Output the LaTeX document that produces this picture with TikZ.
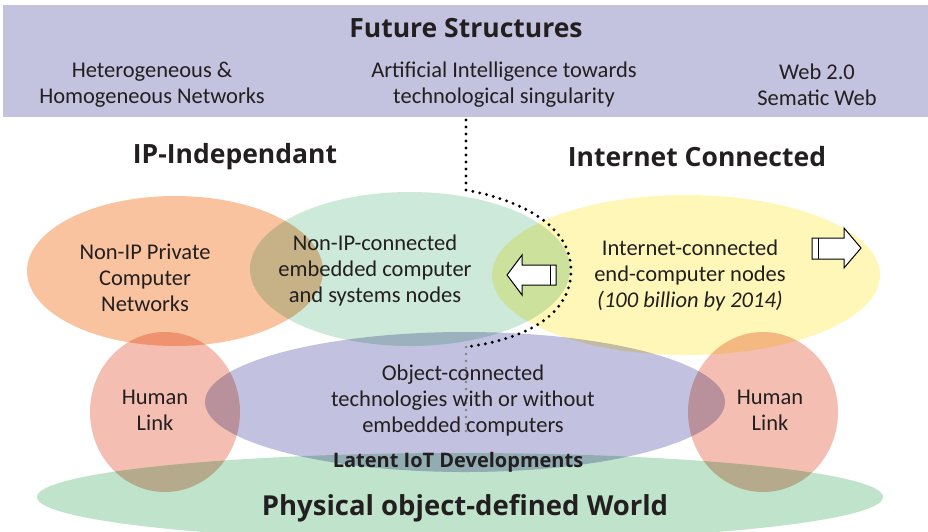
\documentclass[tikz,border=0pt]{standalone}
\usepackage{fontspec}
\setmainfont{Carlito}
\newfontfamily\headfont{Open Sans}
\usetikzlibrary{positioning}

\definecolor{bandblue}{HTML}{C3C3DF}
\definecolor{orangeblob}{HTML}{F9C3A0}
\definecolor{greenblob}{HTML}{CCE9D9}
\definecolor{yellowblob}{HTML}{FFF7B8}
\definecolor{lavblob}{HTML}{C2C2E0}
\definecolor{pinkblob}{HTML}{F4BFB2}
\definecolor{worldgreen}{HTML}{BFE3CB}
\definecolor{inktext}{HTML}{231F20}

\tikzset{
  txt/.style={align=center, text=inktext, font=\fontsize{22.5}{26}\selectfont},
  headtxt/.style={align=center, text=inktext, font=\headfont\fontsize{26.5}{30}\selectfont\bfseries},
  dotline/.style={line width=3.2pt, line cap=round, dash pattern=on 0pt off 7pt},
  blockarrow/.style={fill=white, draw=black, line width=1pt, line join=miter},
}

\begin{document}
\begin{tikzpicture}[x=1pt, y=-1pt]
    \useasboundingbox (0,0) rectangle (928,531);

    % Future structures band
    \fill[bandblue] (3,5) rectangle (928,117);

    % Overlapping areas
    \begin{scope}[blend mode=multiply]
        \fill[worldgreen] (460,497) ellipse [x radius=423, y radius=44];
        \fill[orangeblob] (175,271) ellipse [x radius=148, y radius=75];
        \fill[greenblob] (410,269) ellipse [x radius=160, y radius=77];
        \fill[yellowblob] (686,275) ellipse [x radius=194, y radius=80];
        \fill[pinkblob] (165,412) ellipse [x radius=75, y radius=80];
        \fill[pinkblob] (763,412) ellipse [x radius=75, y radius=80];
        \fill[lavblob] (465,402) ellipse [x radius=260, y radius=70];
    \end{scope}

    % Dotted border between the two worlds
    \coordinate (dtop) at (466,120);
    \coordinate (dbot) at (466,436);
    \draw[dotline, black] (dtop) -- (466,190)
        .. controls (520,200) and (572,225) .. (571,272)
        .. controls (570,318) and (520,340) .. (466,347);
    \draw[dotline, black!50, line width=2.6pt] (466,347) -- (dbot);

    % Block arrows
    \filldraw[blockarrow] (507,275) -- (522,255) -- (522,265) -- (556,265)
        -- (556,285) -- (522,285) -- (522,295) -- cycle;
    \draw[line width=1pt] (550,265) -- (550,285);
    \filldraw[blockarrow] (861,248) -- (844,228) -- (844,238) -- (812,238)
        -- (812,259) -- (844,259) -- (844,268) -- cycle;
    \draw[line width=1pt] (818,238) -- (818,259);

    % Band texts
    \node[headtxt] (future) at (466,28) {Future Structures};
    \node[txt] (hetero) at (152,85) {Heterogeneous \&\\Homogeneous Networks};
    \node[txt] (ai) at (504,85) {Artificial Intelligence towards\\technological singularity};
    \node[txt] (web) at (817,85) {Web 2.0\\Sematic Web};

    % Headings
    \node[headtxt] (ipind) at (235,157) {IP-Independant};
    \node[headtxt] (inetcon) at (697,157) {Internet Connected};

    % Blob texts
    \node[txt] (nonippriv) at (145,278) {Non-IP Private\\Computer\\Networks};
    \node[txt] (nonipconn) at (375,270) {Non-IP-connected\\embedded computer\\and systems nodes};
    \node[txt] (inetnodes) at (690,275) {Internet-connected\\end-computer nodes\\\textit{(100 billion by 2014)}};
    \node[txt] (humanL) at (155,410) {Human\\Link};
    \node[txt] (humanR) at (770,410) {Human\\Link};
    \node[txt] (objconn) at (463,400) {Object-connected\\technologies with or without\\embedded computers};
    \node[headtxt, font=\headfont\fontsize{20}{24}\selectfont\bfseries] (latent) at (458,462) {Latent IoT Developments};
    \node[headtxt, font=\headfont\fontsize{27.5}{32}\selectfont\bfseries] (world) at (465,508) {Physical object-defined World};

\end{tikzpicture}
\end{document}
